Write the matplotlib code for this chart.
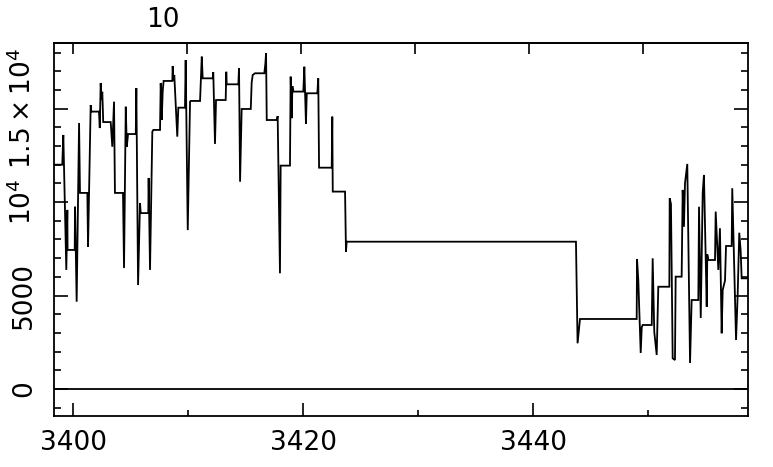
"""
plot.py - spectrum segment, PGPLOT-like framed plot (ticks inside on all sides).
"""
import matplotlib
matplotlib.use("Agg")
import matplotlib.pyplot as plt
from matplotlib.ticker import FixedLocator, FixedFormatter

# wavelength (A) and flux, in drawing order
wave = [3398.32, 3399.04, 3399.13, 3399.39, 3399.48, 3399.50, 3400.12, 3400.15, 3400.29, 3400.50,
        3400.58, 3401.22, 3401.28, 3401.51, 3401.57, 3402.23, 3402.30, 3402.38, 3402.45, 3402.52,
        3402.60, 3403.25, 3403.39, 3403.54, 3403.62, 3404.32, 3404.41, 3404.56, 3404.65, 3404.76,
        3405.43, 3405.48, 3405.63, 3405.80, 3405.86, 3406.52, 3406.55, 3406.67, 3406.87, 3406.96,
        3407.54, 3407.60, 3407.69, 3407.77, 3407.85, 3408.61, 3408.64, 3408.70, 3408.78, 3409.04,
        3409.13, 3409.71, 3409.77, 3409.95, 3410.15, 3410.20, 3411.02, 3411.17, 3411.25, 3412.12,
        3412.17, 3412.32, 3412.41, 3413.19, 3413.25, 3413.30, 3413.34, 3414.35, 3414.41, 3414.50,
        3414.64, 3415.43, 3415.51, 3415.60, 3415.80, 3416.61, 3416.70, 3416.76, 3416.82, 3417.69,
        3417.77, 3417.97, 3418.03, 3418.84, 3418.90, 3418.99, 3419.05, 3419.13, 3420.00, 3420.09,
        3420.23, 3420.30, 3421.22, 3421.30, 3421.37, 3422.47, 3422.52, 3422.56, 3423.63, 3423.71,
        3423.77, 3443.71, 3443.85, 3444.06, 3448.99, 3449.02, 3449.13, 3449.19, 3449.34, 3449.43,
        3449.51, 3450.30, 3450.38, 3450.52, 3450.73, 3450.87, 3451.83, 3451.86, 3451.97, 3452.12,
        3452.32, 3452.38, 3452.90, 3452.99, 3453.10, 3453.19, 3453.39, 3453.63, 3453.77, 3454.35,
        3454.41, 3454.56, 3454.73, 3454.84, 3455.08, 3455.13, 3455.22, 3455.80, 3455.86, 3456.09,
        3456.23, 3456.38, 3456.47, 3456.67, 3456.76, 3457.25, 3457.30, 3457.63, 3457.77, 3457.91,
        3458.03, 3458.12, 3458.67]
flux = [12000, 12000, 13590, 6370, 9580, 7440, 7440, 9750, 4670, 14230,
        10490, 10490, 7610, 15190, 14840, 14840, 13960, 16370, 15460, 15900,
        14280, 14280, 12960, 15370, 10490, 10490, 6470, 15100, 12960, 13640,
        13640, 16100, 5560, 9950, 9410, 9410, 11290, 6370, 13770, 13860,
        13860, 16370, 14390, 15900, 16480, 16480, 17280, 16500, 16800, 13500,
        15050, 15050, 17600, 8500, 15370, 15410, 15410, 17780, 16620, 16620,
        16950, 13110, 15460, 15460, 15460, 16970, 16300, 16300, 17170, 11090,
        14980, 14980, 16400, 16800, 16890, 16890, 17400, 17960, 14390, 14390,
        14600, 6190, 11950, 11950, 16710, 14490, 16200, 15910, 15910, 17240,
        14180, 15820, 15820, 16620, 11840, 11840, 14570, 10560, 10560, 7350,
        7880, 7880, 2445, 3745, 3745, 6955, 5830, 4700, 1926, 3300,
        3424, 3424, 6990, 3050, 1820, 5470, 5470, 10200, 9900, 1640,
        1550, 6010, 6010, 10650, 8680, 11000, 12040, 1390, 4760, 4760,
        9750, 3800, 10500, 11450, 4400, 7200, 6900, 6900, 9490, 6370,
        8600, 2980, 5300, 5800, 7650, 7650, 10740, 2620, 5000, 8360,
        7400, 5920, 5920]

xticks_major = [3400, 3420, 3440]
xticks_minor = [3410, 3430, 3450]
yticks_major = [0, 5000, 10000, 15000]
ytick_labels = ["0", "5000", r"$10^4$", r"$1.5\times10^4$"]
yticks_minor = [v for v in range(-1000, 19000, 1000) if v % 5000 != 0]
top_ticks = [3400, 3409.9, 3419.8, 3429.7, 3439.6, 3449.5]
top_label = "10"

plt.rcParams["font.family"] = ["DejaVu Sans"]
plt.rcParams["mathtext.fontset"] = "dejavusans"

W, H = 773, 467
fig = plt.figure(figsize=(W / 100, H / 100), dpi=100)
ax = fig.add_axes([54 / W, (H - 416) / H, (748 - 54) / W, (416 - 43) / H])

ax.plot(wave, flux, color="black", lw=1.3, solid_joinstyle="miter")
ax.axhline(0, color="black", lw=1.3)

ax.set_xlim(3398.32, 3458.67)
ax.set_ylim(-1445, 18510)

ax.xaxis.set_major_locator(FixedLocator(xticks_major))
ax.xaxis.set_minor_locator(FixedLocator(xticks_minor))
ax.yaxis.set_major_locator(FixedLocator(yticks_major))
ax.yaxis.set_major_formatter(FixedFormatter(ytick_labels))
ax.yaxis.set_minor_locator(FixedLocator(yticks_minor))

ax.tick_params(axis="x", which="major", direction="in", length=9.2, width=1.2,
               labelsize=19, pad=10, top=False)
ax.tick_params(axis="x", which="minor", direction="in", length=4.5, width=1.2, top=False)
ax.tick_params(axis="y", which="major", direction="in", length=10, width=1.2,
               labelsize=19, pad=12, right=True)
ax.tick_params(axis="y", which="minor", direction="in", length=5, width=1.2, right=True)
for lab in ax.get_yticklabels():
    lab.set_rotation(90)
    lab.set_va("center")

# top axis has its own tick spacing
top = ax.secondary_xaxis("top")
top.set_xticks(top_ticks)
top.tick_params(direction="in", length=8, width=1.2, labeltop=False)
top.xaxis.set_minor_locator(FixedLocator([]))
top.spines["top"].set_linewidth(1.3)

for s in ax.spines.values():
    s.set_linewidth(1.3)

fig.text(163 / W, 1 - 20 / H, top_label, fontsize=19, ha="center", va="center")

fig.savefig("out.png", dpi=100)
